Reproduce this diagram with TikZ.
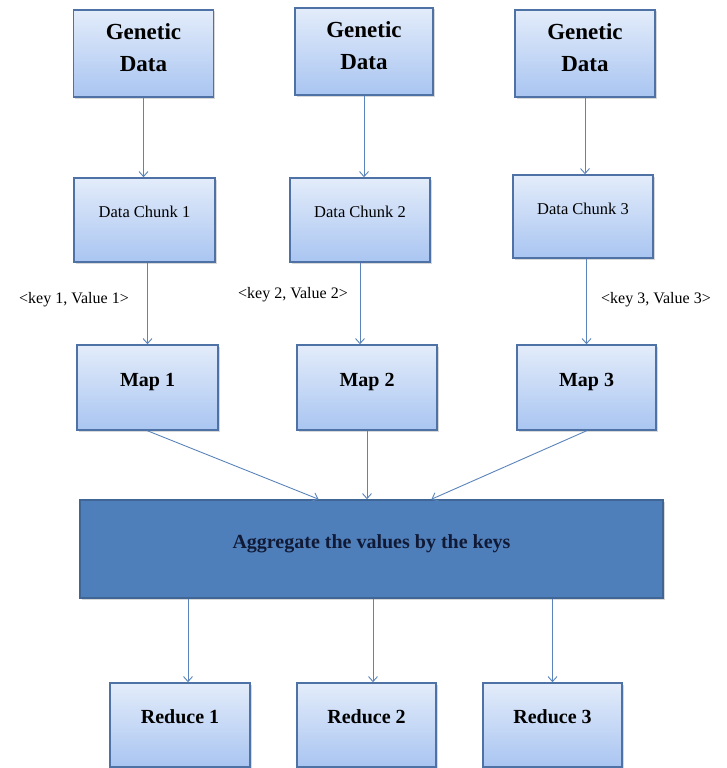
\documentclass[tikz,border=0pt]{standalone}
\usepackage{fontspec}
\setmainfont{Liberation Serif}
\usepackage{xcolor}
\usepackage{tikz}
\usetikzlibrary{arrows.meta, shadows}
\definecolor{boxtop}{HTML}{E3ECFA}
\definecolor{boxbottom}{HTML}{A9C5F1}
\definecolor{boxline}{HTML}{4F72A6}
\definecolor{aggfill}{HTML}{4F7FBA}
\definecolor{aggline}{HTML}{3F6694}
\definecolor{aggtext}{HTML}{101A36}
\definecolor{arrowcol}{HTML}{5A84BA}
\tikzstyle{bluebox} = [rectangle, minimum width=140pt, minimum height=85pt, text centered, align=center, draw=boxline, line width=1.6pt, top color=boxtop, bottom color=boxbottom, drop shadow={shadow xshift=1.5pt, shadow yshift=-1.5pt, opacity=0.3}, text depth=16pt]
\tikzstyle{source} = [bluebox, minimum height=87pt, text depth=12pt, font=\fontsize{23}{32}\selectfont\bfseries]
\tikzstyle{chunk} = [bluebox, minimum height=84pt, font=\fontsize{16.5}{20}\selectfont]
\tikzstyle{mapper} = [bluebox, font=\fontsize{20}{24}\selectfont\bfseries]
\tikzstyle{reducer} = [bluebox, minimum height=84pt, font=\fontsize{20}{24}\selectfont\bfseries]
\tikzstyle{aggregate} = [rectangle, minimum width=583pt, minimum height=98pt, text centered, draw=aggline, line width=1.6pt, fill=aggfill, text=aggtext, drop shadow={shadow xshift=1.5pt, shadow yshift=-1.5pt, opacity=0.3}, text depth=14pt, font=\fontsize{20}{24}\selectfont\bfseries]
\tikzstyle{keylabel} = [font=\fontsize{16}{19}\selectfont]
\tikzstyle{arrow} = [draw=arrowcol, line width=0.9pt, -{Straight Barb[length=5pt, width=9pt]}]

\begin{document}
\begin{tikzpicture}[x=1pt, y=-1pt]

	\fill [white] (0,0) rectangle (727,768);
	\useasboundingbox (0,0) rectangle (727,768);

	\node (g1) [source] at (143.5,53.5) {Genetic\\Data};
	\node (g2) [source, minimum width=138pt] at (364,51.5) {Genetic\\Data};
	\node (g3) [source] at (585,53.5) {Genetic\\Data};

	\node (c1) [chunk, minimum width=141pt] at (144.5,220) {Data Chunk 1};
	\node (c2) [chunk] at (360,220) {Data Chunk 2};
	\node (c3) [chunk, minimum height=83pt] at (583,216.5) {Data Chunk 3};

	\draw [arrow] (g1) -- (g1 |- c1.north);
	\draw [arrow] (g2) -- (g2 |- c2.north);
	\draw [arrow] (g3) -- (g3 |- c3.north);

	\node (m1) [mapper, minimum width=141pt] at (147.5,387.5) {Map 1};
	\node (m2) [mapper] at (367,387.5) {Map 2};
	\node (m3) [mapper, minimum width=139pt] at (586.5,387.5) {Map 3};

	\draw [arrow] (c1.south -| m1) -- (m1);
	\draw [arrow] (c2) -- (c2 |- m2.north);
	\draw [arrow] (c3.south -| m3) -- (m3);

	\node (k1) [keylabel] at (74,300) {<key 1, Value 1>};
	\node (k2) [keylabel] at (293,295) {<key 2, Value 2>};
	\node (k3) [keylabel] at (656,300) {<key 3, Value 3>};

	\node (agg) [aggregate] at (371.5,549) {Aggregate the values by the keys};

	\draw [arrow] (m1.south) -- ([xshift=-53pt]agg.north);
	\draw [arrow] (m2) -- (m2 |- agg.north);
	\draw [arrow] (m3.south) -- ([xshift=60pt]agg.north);

	\node (r1) [reducer] at (180,725) {Reduce 1};
	\node (r2) [reducer, minimum width=139pt] at (366.5,725) {Reduce 2};
	\node (r3) [reducer, minimum width=139pt] at (552.5,725) {Reduce 3};

	\coordinate (t1) at ([xshift=8pt]r1.north);
	\coordinate (t2) at ([xshift=6.5pt]r2.north);
	\coordinate (t3) at (r3.north);

	\draw [arrow] (agg.south -| t1) -- (t1);
	\draw [arrow] (agg.south -| t2) -- (t2);
	\draw [arrow] (agg.south -| t3) -- (t3);

\end{tikzpicture}
\end{document}
